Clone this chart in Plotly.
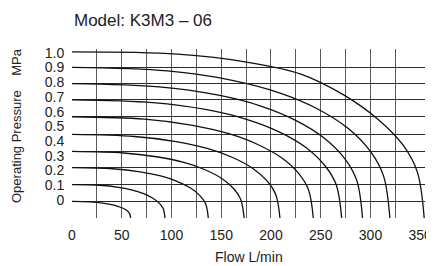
import plotly.graph_objects as go

# ---- data ----
x_tick_vals = [0, 50, 100, 150, 200, 250, 300, 350]
x_tick_text = ["0", "50", "100", "150", "200", "250", "300", "350"]
x_grid_vals = [25, 50, 75, 100, 125, 150, 175, 200, 225, 250, 275, 300, 325]

y_tick_vals = [0, 0.1, 0.2, 0.3, 0.4, 0.5, 0.6, 0.7, 0.8, 0.9, 1.0]
y_tick_text = ["0", "0.1", "0.2", "0.3", "0.4", "0.5", "0.6", "0.7", "0.8", "0.9", "1.0"]
y_grid_vals = [-0.01, 0.105, 0.22, 0.33, 0.445, 0.565, 0.68, 0.79, 0.90]

flow_c0 = [0, 17.7, 29.5, 38.4, 45.4, 51.3, 55.5, 57.8, 59]
pres_c0 = [-0.010, -0.013, -0.019, -0.029, -0.041, -0.056, -0.073, -0.091, -0.122]
flow_c1 = [0, 28.1, 46.8, 60.8, 72.0, 81.3, 87.9, 91.6, 93.5]
pres_c1 = [0.105, 0.100, 0.086, 0.067, 0.043, 0.012, -0.023, -0.058, -0.122]
flow_c2 = [0, 41.1, 68.5, 89.1, 105.5, 119.2, 128.8, 134.3, 137]
pres_c2 = [0.220, 0.212, 0.191, 0.163, 0.127, 0.081, 0.028, -0.026, -0.122]
flow_c3 = [0, 51.9, 86.5, 112.5, 133.2, 150.5, 162.6, 169.5, 173]
pres_c3 = [0.330, 0.319, 0.292, 0.255, 0.207, 0.146, 0.076, 0.005, -0.122]
flow_c4 = [0, 62.7, 104.5, 135.9, 160.9, 181.8, 196.5, 204.8, 209]
pres_c4 = [0.445, 0.431, 0.397, 0.350, 0.290, 0.214, 0.126, 0.037, -0.122]
flow_c5 = [0, 72.8, 121.3, 157.6, 186.7, 211.0, 228.0, 237.7, 242.5]
pres_c5 = [0.565, 0.549, 0.507, 0.450, 0.377, 0.285, 0.179, 0.070, -0.122]
flow_c6 = [0, 81.3, 135.5, 176.2, 208.7, 235.8, 254.7, 265.6, 271]
pres_c6 = [0.680, 0.661, 0.613, 0.546, 0.461, 0.353, 0.229, 0.103, -0.122]
flow_c7 = [0, 87.6, 146, 189.8, 224.8, 254.0, 274.5, 286.2, 292]
pres_c7 = [0.790, 0.768, 0.713, 0.638, 0.541, 0.418, 0.278, 0.133, -0.122]
flow_c8 = [0, 95.9, 159.8, 207.7, 246.0, 278.0, 300.3, 313.1, 319.5]
pres_c8 = [0.900, 0.876, 0.814, 0.729, 0.621, 0.483, 0.326, 0.164, -0.122]
flow_c9 = [0, 106.2, 177, 230.1, 272.6, 308.0, 332.8, 346.9, 354]
pres_c9 = [1.005, 0.990, 0.935, 0.855, 0.715, 0.545, 0.372, 0.194, -0.122]

curves = [
    (flow_c0, pres_c0), (flow_c1, pres_c1), (flow_c2, pres_c2), (flow_c3, pres_c3),
    (flow_c4, pres_c4), (flow_c5, pres_c5), (flow_c6, pres_c6), (flow_c7, pres_c7),
    (flow_c8, pres_c8), (flow_c9, pres_c9),
]

title_text = "Model: K3M3 – 06"
x_title = "Flow L/min"
y_title = "Operating Pressure\u00a0\u00a0\u00a0\u00a0MPa"

FONT = "Liberation Sans, Arial, Helvetica, sans-serif"
TXT = "#222222"

fig = go.Figure()
for fx, py in curves:
    fig.add_trace(go.Scatter(
        x=fx, y=py, mode="lines",
        line=dict(color="#111111", width=1.3, shape="spline", smoothing=1.0),
        showlegend=False, hoverinfo="skip",
    ))

# the page body adds an 8px offset, so margins are reduced by 8px on top/left
fig.update_layout(
    template="none",
    width=434, height=266,
    margin=dict(l=64, r=17, t=41, b=56, pad=0),
    paper_bgcolor="white", plot_bgcolor="white",
    font=dict(family=FONT, size=14, color=TXT),
    showlegend=False,
    xaxis=dict(
        range=[0, 354.8], automargin=False,
        tickmode="array", tickvals=x_tick_vals, ticktext=x_tick_text,
        showgrid=False, zeroline=False, showline=False,
        ticks="outside", ticklen=4, tickcolor="rgba(0,0,0,0)",
        tickfont=dict(family=FONT, size=14, color=TXT),
        minor=dict(tickmode="array", tickvals=x_grid_vals, showgrid=True,
                   gridcolor="#5a5a5a", gridwidth=1.2, ticks=""),
    ),
    yaxis=dict(
        range=[-0.1222, 1.0251], automargin=False,
        tickmode="array", tickvals=y_tick_vals, ticktext=y_tick_text,
        showgrid=False, zeroline=False, showline=False,
        ticks="outside", ticklen=4, tickcolor="rgba(0,0,0,0)",
        tickfont=dict(family=FONT, size=14, color=TXT),
        minor=dict(tickmode="array", tickvals=y_grid_vals, showgrid=True,
                   gridcolor="#2a2a2a", gridwidth=1.1, ticks=""),
    ),
    annotations=[
        dict(text=title_text, xref="paper", yref="paper", x=0.0, y=1.1657,
             xanchor="left", yanchor="middle", showarrow=False,
             font=dict(family=FONT, size=17, color=TXT)),
        dict(text=x_title, xref="paper", yref="paper", x=0.5014, y=-0.229,
             xanchor="center", yanchor="middle", showarrow=False,
             font=dict(family=FONT, size=14, color=TXT)),
        dict(text=y_title, xref="paper", yref="paper", x=-0.1558, y=0.5444,
             xanchor="center", yanchor="middle", showarrow=False, textangle=-90,
             font=dict(family=FONT, size=13, color=TXT)),
    ],
)

fig.write_html("out.html")
